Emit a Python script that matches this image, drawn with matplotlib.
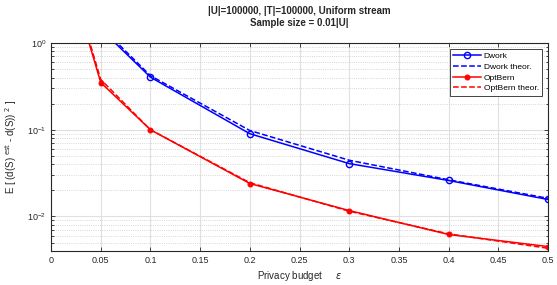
import matplotlib
matplotlib.use("Agg")
import matplotlib.pyplot as plt
from matplotlib.ticker import LogLocator, NullFormatter, FixedLocator

eps = [0.025, 0.05, 0.1, 0.2, 0.3, 0.4, 0.5]
dwork = [6.0, 1.45, 0.404, 0.090, 0.0407, 0.026, 0.0157]
dwork_theor = [6.3, 1.55, 0.42, 0.098, 0.0445, 0.0265, 0.0162]
optbern = [3.3, 0.35, 0.1, 0.024, 0.0117, 0.0062, 0.0045]
optbern_theor = [3.5, 0.38, 0.1, 0.0245, 0.0115, 0.0063, 0.0043]
xticks = [0, 0.05, 0.1, 0.15, 0.2, 0.25, 0.3, 0.35, 0.4, 0.45, 0.5]
xticklabels = ["0", "0.05", "0.1", "0.15", "0.2", "0.25", "0.3", "0.35", "0.4", "0.45", "0.5"]

plt.rcParams['font.family'] = ['Liberation Sans', 'DejaVu Sans']
fig = plt.figure(figsize=(5.57, 2.85), dpi=100)
ax = fig.add_axes([0.0916, 0.1193, 0.8923, 0.7298])

ax.plot(eps, dwork, '-', color='blue', lw=1.1, marker='o', ms=4.5, mfc='none', mew=1.0, label='Dwork')
ax.plot(eps, dwork_theor, '--', color='blue', lw=1.1, label='Dwork theor.')
ax.plot(eps, optbern, '-', color='red', lw=1.1, marker='o', ms=3.5, mfc='red', mew=0.8, label='OptBern')
ax.plot(eps, optbern_theor, '--', color='red', lw=1.1, label='OptBern theor.')

ax.set_yscale('log')
ax.set_xlim(0, 0.5)
ax.set_ylim(0.004, 1)
ax.xaxis.set_major_locator(FixedLocator(xticks))
ax.set_xticklabels(xticklabels)
ax.yaxis.set_major_locator(LogLocator(base=10, numticks=10))
ax.yaxis.set_minor_locator(LogLocator(base=10, subs=range(2, 10), numticks=10))
ax.yaxis.set_minor_formatter(NullFormatter())

ax.grid(True, which='major', color='#e0e0e0', lw=0.8, ls='-')
ax.grid(True, which='minor', axis='y', color='#c8c8c8', lw=0.6, ls=':')
ax.set_axisbelow(True)
ax.tick_params(which='both', direction='in', top=True, right=True, labelsize=6.5, colors='#262626', width=0.6)
ax.tick_params(which='major', length=3)
ax.tick_params(which='minor', length=1.8)
for s in ax.spines.values():
    s.set_color('#262626')
    s.set_linewidth(0.8)

ax.set_xlabel(r'Privacy budget     $\epsilon$', fontsize=7, color='#262626', labelpad=3)
ax.set_ylabel(r'E [ (d(S) $^{\mathrm{est}}$ - d(S)) $^{2}$ ]', fontsize=7, color='#262626', labelpad=6)
ax.set_title('|U|=100000, |T|=100000, Uniform stream\nSample size = 0.01|U|', fontsize=7,
             fontweight='bold', color='#262626', pad=12, linespacing=1.35)

leg = ax.legend(loc='upper right', fontsize=6, frameon=True, fancybox=False, edgecolor='#262626',
                framealpha=1, handlelength=3.4, borderaxespad=0.7, labelspacing=0.35, handletextpad=0.3,
                borderpad=0.4)
leg.get_frame().set_linewidth(0.6)

fig.savefig('out.png', dpi=100)
